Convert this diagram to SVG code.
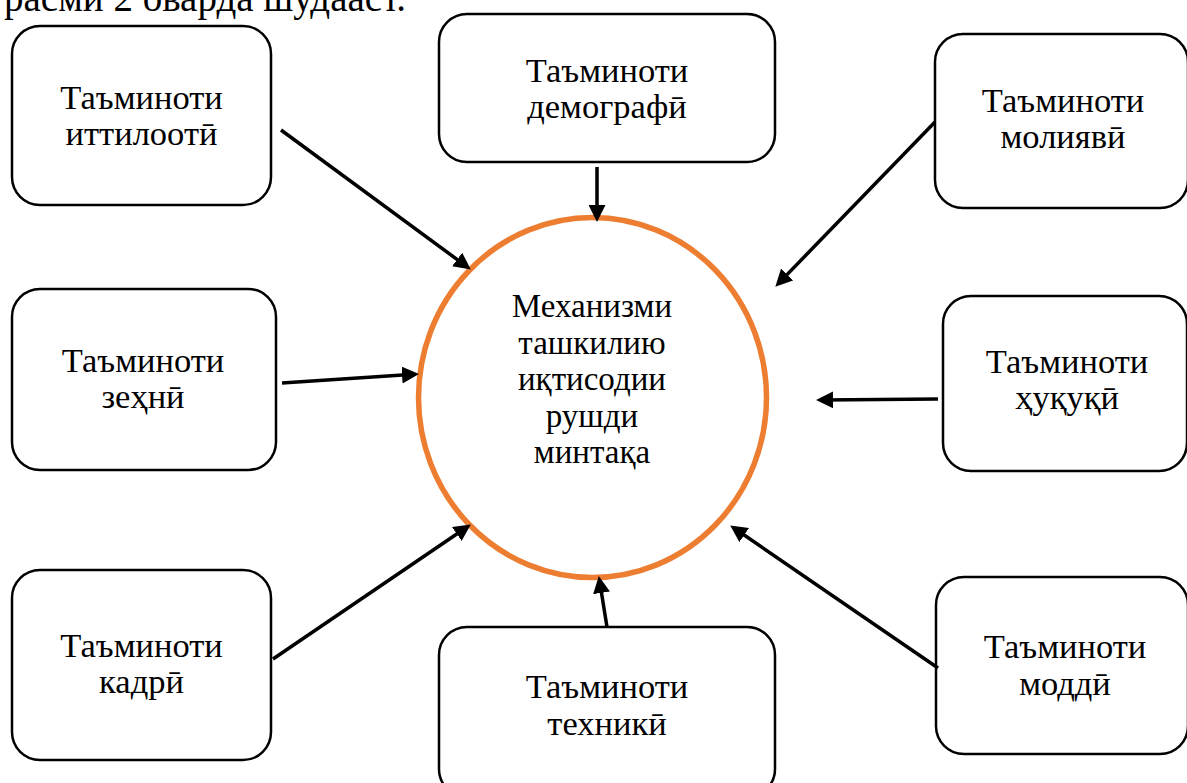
<svg xmlns="http://www.w3.org/2000/svg" width="1187" height="783" viewBox="0 0 1187 783">
<style>
.box{fill:#fff;stroke:#000;stroke-width:2.5}
.t{font-family:"Liberation Serif","Times New Roman",serif;font-size:34.5px;fill:#000;text-anchor:middle}
.m{font-family:"Liberation Serif","Times New Roman",serif;font-size:33px;fill:#000;text-anchor:middle}
.c{stroke:#000;stroke-width:3.5;fill:none;marker-end:url(#ah)}
</style>
<defs>
<marker id="ah" markerUnits="userSpaceOnUse" markerWidth="17" markerHeight="17" refX="12" refY="8.5" orient="auto">
<path d="M0,0 L17,8.5 L0,17 z" fill="#000"/>
</marker>
</defs>
<rect width="1187" height="783" fill="#fff"/>
<text x="406" y="11" font-family="'Liberation Serif','Times New Roman',serif" font-size="39" text-anchor="end">расми 2 оварда шудааст.</text>

<g id="center">
<ellipse cx="592.5" cy="397.5" rx="174" ry="180" fill="#fff" stroke="#ED7D31" stroke-width="5.5"/>
<text class="m" x="592" y="317">Механизми</text>
<text class="m" x="592" y="354">ташкилию</text>
<text class="m" x="592" y="390">иқтисодии</text>
<text class="m" x="592" y="427">рушди</text>
<text class="m" x="592" y="463">минтақа</text>
</g>

<g id="n-ittiloot">
<rect class="box" x="12" y="26" width="259" height="179" rx="28"/>
<text class="t" x="141.5" y="109">Таъминоти</text>
<text class="t" x="141.5" y="145">иттилоотӣ</text>
</g>
<g id="n-demografi">
<rect class="box" x="439" y="14" width="336" height="148" rx="28"/>
<text class="t" x="607" y="82">Таъминоти</text>
<text class="t" x="607" y="118">демографӣ</text>
</g>
<g id="n-moliyavi">
<rect class="box" x="935" y="34" width="253" height="174" rx="28"/>
<text class="t" x="1063" y="112">Таъминоти</text>
<text class="t" x="1063" y="148">молиявӣ</text>
</g>
<g id="n-zehni">
<rect class="box" x="12" y="289" width="264" height="181" rx="28"/>
<text class="t" x="143" y="372">Таъминоти</text>
<text class="t" x="143" y="408">зеҳнӣ</text>
</g>
<g id="n-huquqi">
<rect class="box" x="943" y="296" width="244" height="175" rx="28"/>
<text class="t" x="1067" y="373">Таъминоти</text>
<text class="t" x="1067" y="409">ҳуқуқӣ</text>
</g>
<g id="n-kadri">
<rect class="box" x="12" y="570" width="259" height="190" rx="28"/>
<text class="t" x="141.5" y="657">Таъминоти</text>
<text class="t" x="141.5" y="693">кадрӣ</text>
</g>
<g id="n-texniki">
<rect class="box" x="439" y="627" width="336" height="170" rx="28"/>
<text class="t" x="607" y="698">Таъминоти</text>
<text class="t" x="607" y="735">техникӣ</text>
</g>
<g id="n-moddi">
<rect class="box" x="936" y="577" width="252" height="177" rx="28"/>
<text class="t" x="1065" y="658">Таъминоти</text>
<text class="t" x="1065" y="695">моддӣ</text>
</g>

<g id="connectors">
<line class="c" x1="281" y1="130" x2="466.8" y2="266.6"/>
<line class="c" x1="597" y1="167" x2="597" y2="217"/>
<line class="c" x1="935" y1="122" x2="778.8" y2="283.1"/>
<line class="c" x1="282" y1="383" x2="414" y2="374.3"/>
<line class="c" x1="938" y1="399" x2="821" y2="400"/>
<line class="c" x1="273" y1="659" x2="466.7" y2="527.2"/>
<line class="c" x1="607" y1="627" x2="599.6" y2="581"/>
<line class="c" x1="938" y1="668" x2="734.3" y2="528.3"/>
</g>
</svg>
